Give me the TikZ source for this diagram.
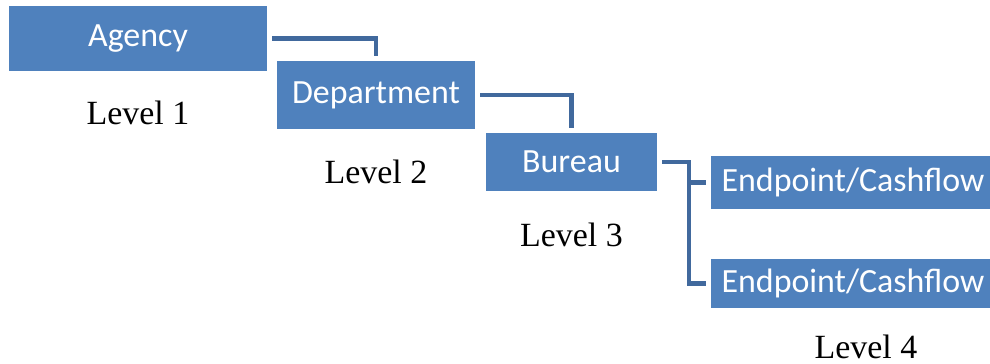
\documentclass[tikz,border=0pt]{standalone}
\usepackage{fontspec}
\setmainfont{Liberation Serif}
\setsansfont{Carlito}
\usetikzlibrary{positioning}
\definecolor{boxblue}{HTML}{4F81BD}
\definecolor{linkblue}{HTML}{41699D}
\tikzset{
    block/.style={rectangle, fill=boxblue, text=white, align=center, inner sep=0pt, font=\sffamily\fontsize{19.3}{22}\selectfont},
    level/.style={inner sep=0pt, font=\fontsize{19.3}{22}\selectfont},
    link/.style={draw=linkblue, line width=2.3pt, shorten <=0.1cm, shorten >=0.1cm}
}

\begin{document}
\begin{tikzpicture}
            \useasboundingbox (0,0) rectangle (19.8,-7.28);
            \clip (0,0) rectangle (19.8,-7.28);
            \node[block, minimum width=5.16cm, minimum height=1.3cm] (agency) at (2.76,-0.77) {Agency};
            \node[block, minimum width=3.96cm, minimum height=1.36cm] (department) at (7.52,-1.9) {Department};
            \node[block, minimum width=3.42cm, minimum height=1.16cm] (bureau) at (11.43,-3.24) {Bureau};
            \node[block, minimum width=5.68cm, minimum height=1.06cm] (endpointA) at (17.06,-3.65) {Endpoint/Cashflow};
            \node[block, minimum width=5.68cm, minimum height=0.98cm] (endpointB) at (17.06,-5.67) {Endpoint/Cashflow};
            \node[level, anchor=north, below=0.58cm of agency] (levelA) {Level 1};
            \node[level, anchor=north, below=0.6cm of department] (levelB) {Level 2};
            \node[level, anchor=north, below=0.62cm of bureau] (levelC) {Level 3};
            \node[level, anchor=north, below=0.52cm of endpointB, xshift=0.26cm] (levelD) {Level 4};
            \coordinate[right=0.64cm of bureau.east] (fork);
            \draw[link] (agency.east) -| (department.north);
            \draw[link] (department.east) -| (bureau.north);
            \draw[link] (bureau.east) -- (fork) |- (endpointA.west);
            \draw[link] (fork) |- (endpointB.west);
        \end{tikzpicture}
\end{document}
